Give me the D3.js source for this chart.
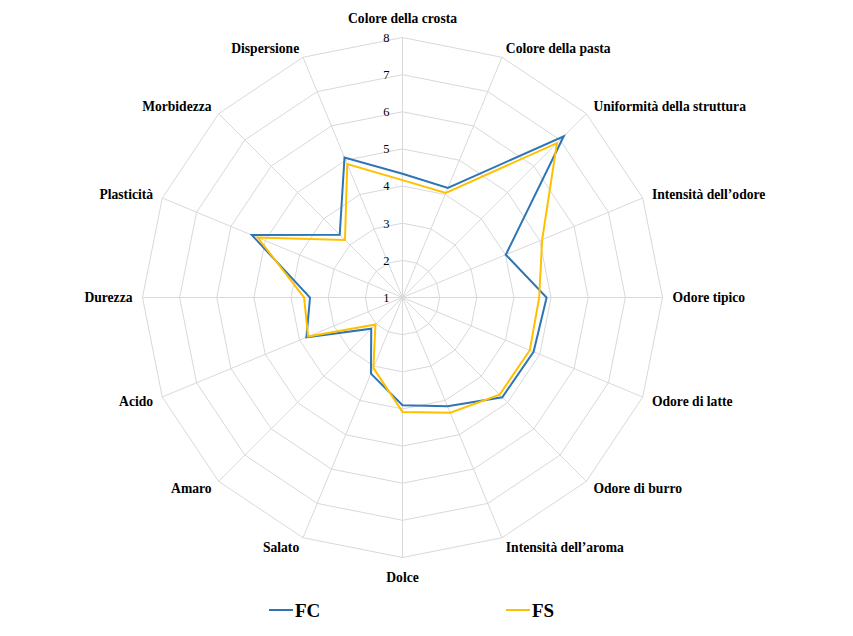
<!DOCTYPE html>
<html>
<head>
<meta charset="utf-8">
<script src="https://cdn.jsdelivr.net/npm/d3@7"></script>
<style>
  body { margin: 0; background: #fff; }
  text { font-family: "Liberation Serif", "Times New Roman", serif; }
</style>
</head>
<body>
<div id="chart"></div>
<script>
// attributes around the radar, clockwise from the top
var categories = ["Colore della crosta", "Colore della pasta", "Uniformità della struttura",
	"Intensità dell\u2019odore", "Odore tipico", "Odore di latte", "Odore di burro",
	"Intensità dell\u2019aroma", "Dolce", "Salato", "Amaro", "Acido", "Durezza",
	"Plasticità", "Morbidezza", "Dispersione"];

var seriesNames = ["FC", "FS"];
var fcValues = [4.33, 4.19, 7.14, 4.01, 4.88, 4.82, 4.80, 4.17, 3.90, 3.22, 2.19, 3.80, 3.49, 5.39, 3.39, 5.08];
var fsValues = [4.16, 4.05, 6.88, 5.07, 4.68, 4.71, 4.70, 4.36, 4.08, 3.05, 2.03, 3.75, 3.65, 5.22, 3.19, 4.89];
var tickValues = [1, 2, 3, 4, 5, 6, 7, 8];
var seriesColors = ["#2e75b6", "#ffc000"];

var width = 853, height = 636;
var cx = 402.5, cy = 297.5, outer = 260;

var svg = d3.select("#chart")
	.append("svg")
	.attr("width", width)
	.attr("height", height);

var r = d3.scaleLinear().domain([1, 8]).range([0, outer]);
var angle = d3.scaleLinear().domain([0, categories.length]).range([0, 2 * Math.PI]);

var g = svg.append("g")
	.attr("transform", "translate(" + cx + "," + cy + ")");

function px(i, v) { return r(v) * Math.sin(angle(i)); }
function py(i, v) { return -r(v) * Math.cos(angle(i)); }

// grid rings
var ring = d3.line().x(function(d) { return d[0]; }).y(function(d) { return d[1]; });
tickValues.slice(1).forEach(function(t) {
	var pts = categories.map(function(c, i) { return [px(i, t), py(i, t)]; });
	pts.push(pts[0]);
	g.append("path")
		.attr("d", ring(pts))
		.attr("fill", "none")
		.attr("stroke", "#d9d9d9")
		.attr("stroke-width", 1);
});

// spokes
g.selectAll("line.spoke")
	.data(categories)
	.enter()
	.append("line")
	.attr("class", "spoke")
	.attr("x1", 0).attr("y1", 0)
	.attr("x2", function(d, i) { return px(i, 8); })
	.attr("y2", function(d, i) { return py(i, 8); })
	.attr("stroke", "#d9d9d9")
	.attr("stroke-width", 1);

// tick labels on the top spoke
g.selectAll("text.tick")
	.data(tickValues)
	.enter()
	.append("text")
	.attr("class", "tick")
	.attr("x", -13)
	.attr("y", function(d) { return -r(d); })
	.attr("dy", "0.35em")
	.attr("text-anchor", "end")
	.style("font-size", "12.5px")
	.text(function(d) { return d; });

// category labels
g.selectAll("text.cat")
	.data(categories)
	.enter()
	.append("text")
	.attr("class", "cat")
	.attr("x", function(d, i) { return 270 * Math.sin(angle(i)); })
	.attr("y", function(d, i) {
		var s = Math.sin(angle(i)), c = Math.cos(angle(i));
		var y = -270 * c;
		if (Math.abs(s) < 0.01) y += c > 0 ? -9.5 : 9.5;
		return y;
	})
	.attr("dy", "0.35em")
	.attr("text-anchor", function(d, i) {
		var s = Math.sin(angle(i));
		return s > 0.01 ? "start" : (s < -0.01 ? "end" : "middle");
	})
	.style("font-size", "13.6px")
	.style("font-weight", "bold")
	.text(function(d) { return d; });

// series
var radial = d3.lineRadial()
	.angle(function(d, i) { return angle(i); })
	.radius(function(d) { return r(d); })
	.curve(d3.curveLinearClosed);

[fcValues, fsValues].forEach(function(vals, k) {
	g.append("path")
		.attr("d", radial(vals))
		.attr("fill", "none")
		.attr("stroke", seriesColors[k])
		.attr("stroke-width", 2)
		.attr("stroke-linejoin", "miter");
});

// legend
var legendX = [269, 506];
var legend = svg.selectAll("g.legend")
	.data(seriesNames)
	.enter()
	.append("g")
	.attr("class", "legend")
	.attr("transform", function(d, i) { return "translate(" + legendX[i] + ",610)"; });

legend.append("line")
	.attr("x1", 0).attr("x2", 24)
	.attr("y1", 0).attr("y2", 0)
	.attr("stroke", function(d, i) { return seriesColors[i]; })
	.attr("stroke-width", 2);

legend.append("text")
	.attr("x", 26)
	.attr("y", 0)
	.attr("dy", "0.35em")
	.style("font-size", "19px")
	.style("font-weight", "bold")
	.text(function(d) { return d; });
</script>
</body>
</html>
